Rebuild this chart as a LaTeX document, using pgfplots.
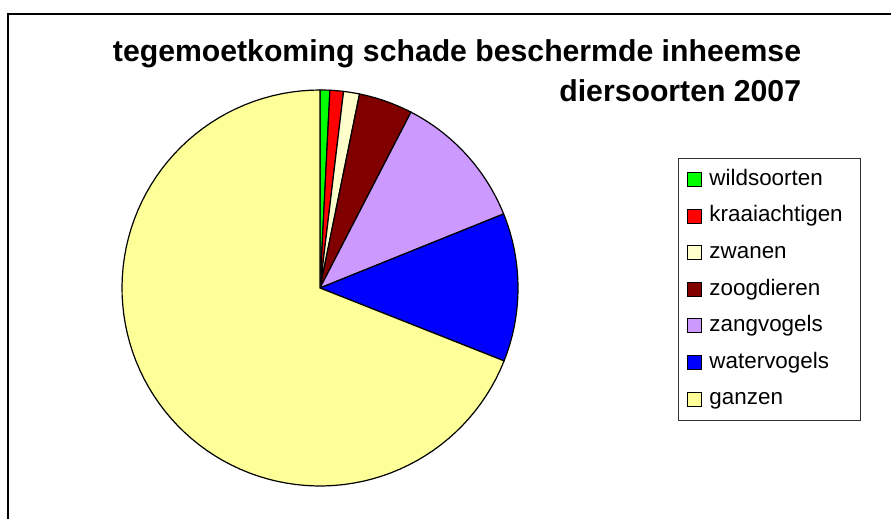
\documentclass[border=0pt]{standalone}
\usepackage{fontspec}
\setmainfont{Liberation Sans}
\usepackage{pgfplots}
\usepackage{pgfplotstable}
\pgfplotsset{compat=1.18}

% colours of the slices, in table order
\definecolor{pie0}{RGB}{0,255,0}
\definecolor{pie1}{RGB}{255,0,0}
\definecolor{pie2}{RGB}{255,255,204}
\definecolor{pie3}{RGB}{128,0,0}
\definecolor{pie4}{RGB}{204,153,255}
\definecolor{pie5}{RGB}{0,0,255}
\definecolor{pie6}{RGB}{255,255,153}

% share of each group, percent
\pgfplotstableread{
label value
wildsoorten 0.8
kraaiachtigen 1.1
zwanen 1.3
zoogdieren 4.4
zangvogels 11.3
watervogels 12.1
ganzen 69.0
}\piedata

\begin{document}%
\begin{tikzpicture}[x=0.5pt,y=0.5pt]
% start/end angle of every slice (clockwise from the top)
\def\piecum{0}%
\pgfplotstableforeachcolumnelement{value}\of\piedata\as\pieval{%
  \pgfmathsetmacro\pieStart{90-3.6*\piecum}%
  \pgfmathsetmacro\piecumnext{\piecum+\pieval}%
  \pgfmathsetmacro\pieEnd{90-3.6*\piecumnext}%
  \expandafter\xdef\csname pieS\pgfplotstablerow\endcsname{\pieStart}%
  \expandafter\xdef\csname pieE\pgfplotstablerow\endcsname{\pieEnd}%
  \xdef\piecum{\piecumnext}%
}%
\draw[line width=1pt] (8,-30) rectangle (930,505);
\node[anchor=base east, font=\bfseries\fontsize{15.1}{18}\selectfont, inner sep=0pt] at (801.5,457) {tegemoetkoming schade beschermde inheemse};
\node[anchor=base east, font=\bfseries\fontsize{15.1}{18}\selectfont, inner sep=0pt] at (801.5,417.5) {diersoorten 2007};
\begin{axis}[
  at={(160pt,115.5pt)}, anchor=origin,
  width=198pt, height=198pt, scale only axis,
  axis equal image,
  xmin=-1, xmax=1, ymin=-1, ymax=1,
  hide axis, clip=false,
  legend cell align=left,
  legend image code/.code={%
    \draw[#1, draw=black, line width=0.5pt] (0pt,-3.5pt) rectangle (7pt,3.5pt);
    \pgfresetboundingbox
    \pgfpathrectangle{\pgfpoint{2.5pt}{-3.5pt}}{\pgfpoint{6.5pt}{7pt}}%
    \pgfusepath{use as bounding box}},
  legend style={
    at={(axis description cs:1.404,0.8285)}, anchor=north west,
    draw=black!80, line width=0.5pt, fill=white,
    font=\fontsize{11.2}{13}\selectfont,
    inner xsep=7pt, inner ysep=3.2pt, row sep=3.6pt,
    nodes={inner sep=2pt, text height=8.2pt, text depth=2.5pt},
  },
]
\pgfplotsinvokeforeach{0,...,6}{
  \addplot[fill=pie#1, draw=black, line width=0.6pt,
    domain=\csname pieE#1\endcsname:\csname pieS#1\endcsname, samples=90]
    ({cos(x)},{sin(x)}) -- (axis cs:0,0) -- cycle;
  \pgfplotstablegetelem{#1}{label}\of\piedata
  \addlegendentryexpanded{\pgfplotsretval}
}
\end{axis}
\pgfresetboundingbox
\useasboundingbox (0,0) rectangle (891,519);
\end{tikzpicture}%
\end{document}
